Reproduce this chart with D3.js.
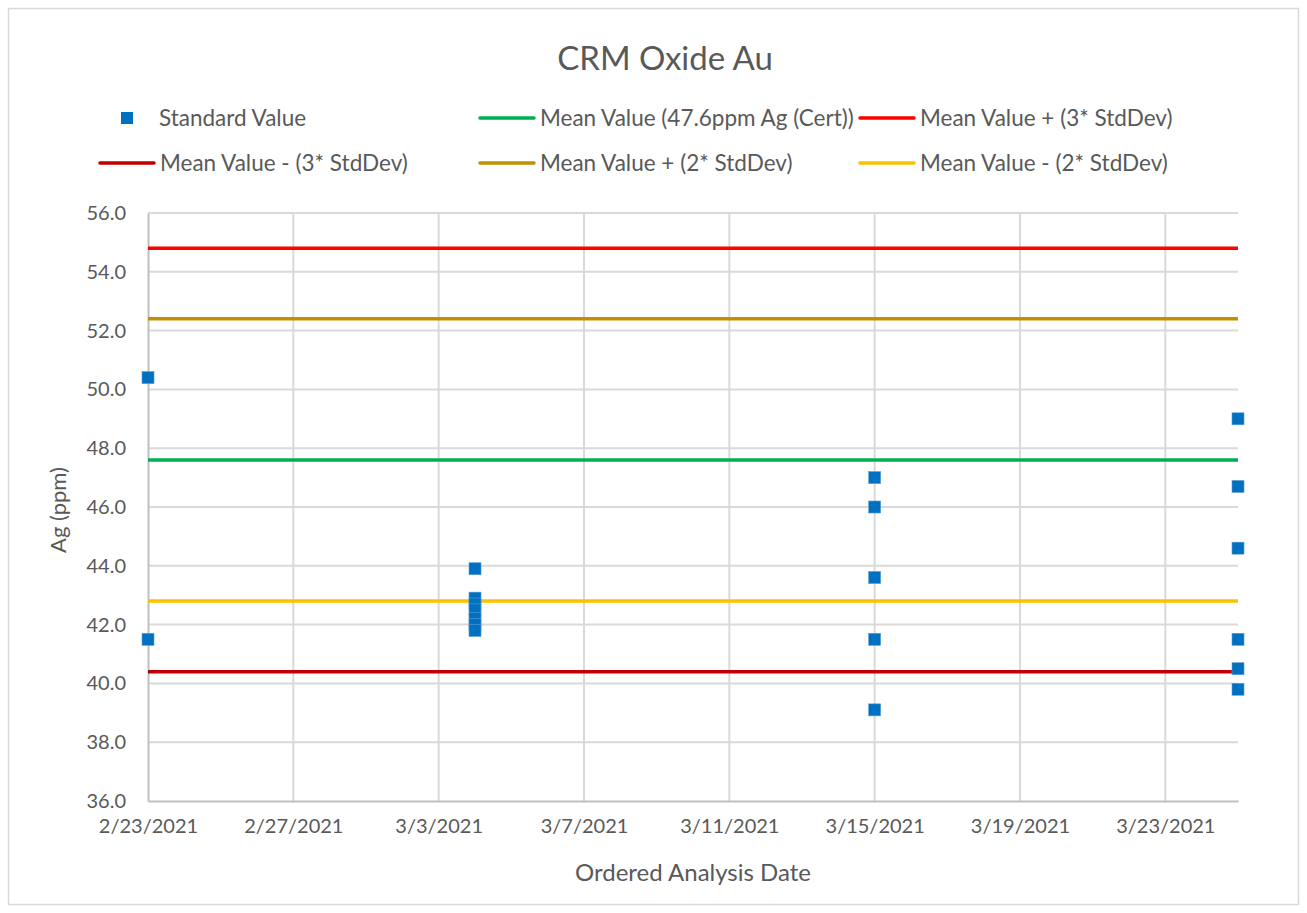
<!DOCTYPE html>
<html>
<head>
<meta charset="utf-8">
<script src="https://cdn.jsdelivr.net/npm/d3@7"></script>
<style>
  body { margin: 0; background: #fff; }
  text { font-family: Lato, "Open Sans", sans-serif; fill: #595959; }
</style>
</head>
<body>
<svg id="chart" width="1307" height="913"></svg>
<script>
// sample dates and Ag values
const sampleDates = [
  "2/23/2021", "2/23/2021",
  "3/4/2021", "3/4/2021", "3/4/2021", "3/4/2021", "3/4/2021", "3/4/2021", "3/4/2021",
  "3/15/2021", "3/15/2021", "3/15/2021", "3/15/2021", "3/15/2021",
  "3/25/2021", "3/25/2021", "3/25/2021", "3/25/2021", "3/25/2021", "3/25/2021",
];
const sampleValues = [
  50.4, 41.5,
  43.9, 42.9, 42.7, 42.5, 42.2, 42.0, 41.8,
  47.0, 46.0, 43.6, 41.5, 39.1,
  49.0, 46.7, 44.6, 41.5, 40.5, 39.8,
];
// control lines
const lineNames = [
  "Mean Value (47.6ppm Ag (Cert))",
  "Mean Value + (3* StdDev)",
  "Mean Value - (3* StdDev)",
  "Mean Value + (2* StdDev)",
  "Mean Value - (2* StdDev)",
];
const lineValues = [47.6, 54.8, 40.4, 52.4, 42.8];
const lineColors = ["#00b050", "#ff0000", "#c00000", "#bf9000", "#ffc000"];
// axis ticks
const xTickLabels = ["2/23/2021", "2/27/2021", "3/3/2021", "3/7/2021", "3/11/2021", "3/15/2021", "3/19/2021", "3/23/2021"];
const yTicks = [36, 38, 40, 42, 44, 46, 48, 50, 52, 54, 56];
const xDomain = ["2/23/2021", "3/25/2021"];

const parse = d3.timeParse("%m/%d/%Y");
const svg = d3.select("#chart");
const margin = { top: 213, right: 69, bottom: 112, left: 148 };
const width = +svg.attr("width");
const height = +svg.attr("height");
const innerWidth = width - margin.left - margin.right;
const innerHeight = height - margin.top - margin.bottom;

// outer border
svg.append("rect")
  .attr("x", 8.5).attr("y", 8.5)
  .attr("width", width - 17).attr("height", height - 17)
  .attr("fill", "#fff").attr("stroke", "#d9d9d9").attr("stroke-width", 1.5);

const xScale = d3.scaleTime().domain(xDomain.map(parse)).range([0, innerWidth]);
const yScale = d3.scaleLinear().domain([36, 56]).range([innerHeight, 0]);

const g = svg.append("g").attr("transform", `translate(${margin.left},${margin.top})`);

// gridlines
g.append("g")
  .selectAll("line")
  .data(yTicks.slice(1))
  .enter()
  .append("line")
  .attr("x1", 0).attr("x2", innerWidth)
  .attr("y1", (d) => yScale(d)).attr("y2", (d) => yScale(d))
  .attr("stroke", "#d9d9d9").attr("stroke-width", 2);
g.append("g")
  .selectAll("line")
  .data(xTickLabels.slice(1))
  .enter()
  .append("line")
  .attr("x1", (d) => xScale(parse(d))).attr("x2", (d) => xScale(parse(d)))
  .attr("y1", 0).attr("y2", innerHeight)
  .attr("stroke", "#d9d9d9").attr("stroke-width", 2);

// axes
const xAxis = d3.axisBottom(xScale)
  .tickValues(xTickLabels.map(parse))
  .tickSize(0).tickPadding(18)
  .tickFormat(d3.timeFormat("%-m/%-d/%Y"));
const xAxisG = g.append("g").attr("transform", `translate(0,${innerHeight})`).call(xAxis);
xAxisG.select(".domain").attr("stroke", "#bfbfbf").attr("stroke-width", 2);
xAxisG.selectAll("text").attr("font-size", "20px").attr("fill", "#595959");

const yAxis = d3.axisLeft(yScale).tickValues(yTicks).tickSize(0).tickPadding(22).tickFormat(d3.format(".1f"));
const yAxisG = g.append("g").call(yAxis);
yAxisG.select(".domain").attr("stroke", "#bfbfbf").attr("stroke-width", 2);
yAxisG.selectAll("text").attr("font-size", "20px").attr("fill", "#595959");

// control lines
g.append("g")
  .selectAll("line")
  .data(lineValues)
  .enter()
  .append("line")
  .attr("x1", 0).attr("x2", innerWidth)
  .attr("y1", (d) => yScale(d)).attr("y2", (d) => yScale(d))
  .attr("stroke", (d, i) => lineColors[i])
  .attr("stroke-width", 3.5);

// sample points
const points = sampleDates.map((d, i) => ({ date: parse(d), value: sampleValues[i] }));
g.append("g")
  .selectAll("rect")
  .data(points)
  .enter()
  .append("rect")
  .attr("x", (d) => xScale(d.date) - 6)
  .attr("y", (d) => yScale(d.value) - 6)
  .attr("width", 12).attr("height", 12)
  .attr("fill", "#0070c0")
  .attr("stroke", "#5b9bd5").attr("stroke-width", 0.6);

// titles
svg.append("text")
  .attr("x", 665).attr("y", 58)
  .attr("dy", "0.35em")
  .attr("text-anchor", "middle")
  .attr("font-size", "33px")
  .text("CRM Oxide Au");
svg.append("text")
  .attr("x", 693).attr("y", 873)
  .attr("dy", "0.35em")
  .attr("text-anchor", "middle")
  .attr("font-size", "24px")
  .text("Ordered Analysis Date");
svg.append("text")
  .attr("transform", "translate(58,510) rotate(-90)")
  .attr("dy", "0.35em")
  .attr("text-anchor", "middle")
  .attr("font-size", "22px")
  .text("Ag (ppm)");

// legend
const legendPos = [
  { x: 100, y: 118 }, { x: 480, y: 118 }, { x: 860, y: 118 },
  { x: 100, y: 163 }, { x: 480, y: 163 }, { x: 860, y: 163 },
];
const legend = svg.append("g");
legend.append("rect")
  .attr("x", legendPos[0].x + 21).attr("y", legendPos[0].y - 6)
  .attr("width", 12).attr("height", 12)
  .attr("fill", "#0070c0");
legend.append("text")
  .attr("x", legendPos[0].x + 59).attr("y", legendPos[0].y)
  .attr("dy", "0.35em").attr("font-size", "22.5px")
  .text("Standard Value");
lineNames.forEach((name, i) => {
  const p = legendPos[i + 1];
  legend.append("line")
    .attr("x1", p.x).attr("x2", p.x + 54)
    .attr("y1", p.y).attr("y2", p.y)
    .attr("stroke", lineColors[i]).attr("stroke-width", 3.5)
    .attr("stroke-linecap", "round");
  legend.append("text")
    .attr("x", p.x + 60).attr("y", p.y)
    .attr("dy", "0.35em").attr("font-size", "22.5px")
    .text(name);
});
</script>
</body>
</html>
